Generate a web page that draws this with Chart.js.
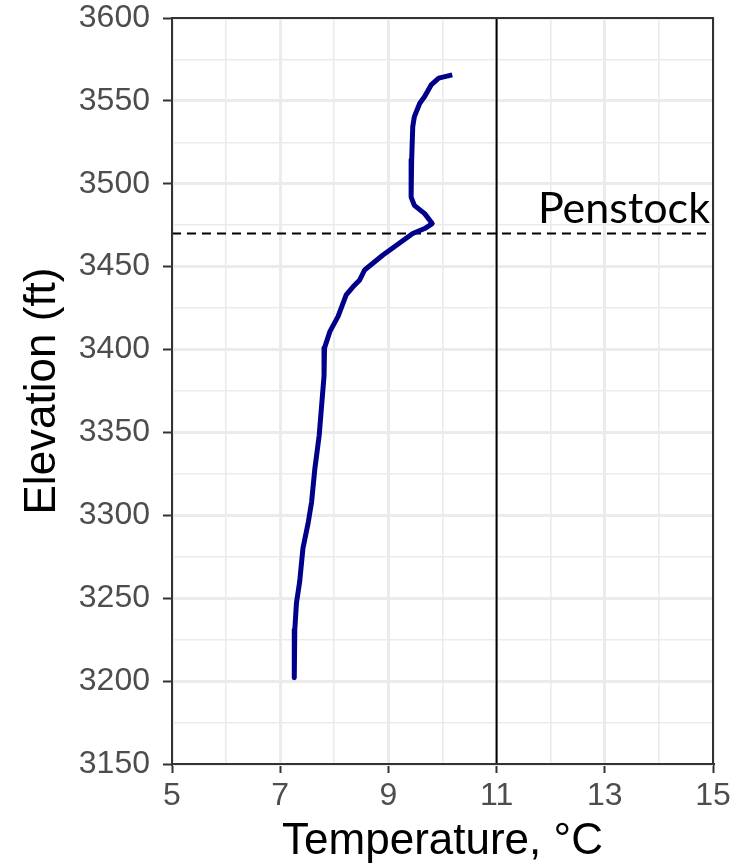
<!DOCTYPE html>
<html>
<head>
<meta charset="utf-8">
<script src="https://cdn.jsdelivr.net/npm/chart.js@4.4.1/dist/chart.umd.min.js"></script>
<style>
  html, body { margin: 0; padding: 0; background: #ffffff; }
  #wrap { width: 751px; height: 867px; }
</style>
</head>
<body>
<div id="wrap"><canvas id="c" width="751" height="867"></canvas></div>
<script>
// ---- data ----
const elevation = [3565.7, 3563.7, 3559.6, 3552.6, 3548.6, 3540.5, 3534.5, 3514.5, 3492, 3487, 3482, 3476, 3473, 3470, 3457, 3448, 3442, 3438, 3433, 3420, 3411, 3401, 3384, 3364, 3348, 3328, 3308, 3296, 3280, 3260, 3247, 3231, 3202];
const temperature = [10.18, 9.93, 9.79, 9.67, 9.58, 9.48, 9.45, 9.43, 9.42, 9.48, 9.67, 9.81, 9.67, 9.45, 8.90, 8.56, 8.47, 8.35, 8.22, 8.07, 7.92, 7.82, 7.81, 7.76, 7.72, 7.64, 7.58, 7.52, 7.42, 7.36, 7.30, 7.27, 7.26];
const xTickLabels = ['5', '7', '9', '11', '13', '15'];
const yTickLabels = ['3150', '3200', '3250', '3300', '3350', '3400', '3450', '3500', '3550', '3600'];
const penstockElevation = 3470;
const penstockLabel = 'Penstock';
const referenceTemperature = 11;
const xRange = [5, 15];
const yRange = [3150, 3600];
const xTitle = 'Temperature, °C';
const yTitle = 'Elevation (ft)';

const profile = temperature.map((t, i) => ({ x: t, y: elevation[i] }));
const refLine = [{ x: referenceTemperature, y: yRange[0] }, { x: referenceTemperature, y: yRange[1] }];
const penLine = [{ x: xRange[0], y: penstockElevation }, { x: xRange[1], y: penstockElevation }];

const frame = {
  id: 'frame',
  afterDatasetsDraw(chart) {
    const { ctx, chartArea: a, scales } = chart;
    ctx.save();
    ctx.strokeStyle = '#333333';
    ctx.lineWidth = 2;
    ctx.strokeRect(a.left, a.top, a.right - a.left, a.bottom - a.top);
    ctx.fillStyle = '#000000';
    ctx.font = '43px Lato, "Noto Sans", sans-serif';
    ctx.textAlign = 'right';
    ctx.textBaseline = 'alphabetic';
    ctx.fillText(penstockLabel, scales.x.getPixelForValue(xRange[1]) - 3, scales.y.getPixelForValue(penstockElevation) - 11);
    ctx.restore();
  }
};

const tickFont = { family: '"Liberation Sans", Arial, sans-serif', size: 32, lineHeight: 1.2 };
const titleFont = { family: '"Liberation Sans", Arial, sans-serif', size: 44, lineHeight: 1 };

new Chart(document.getElementById('c'), {
  type: 'scatter',
  data: {
    datasets: [
      { data: penLine, showLine: true, borderColor: '#000000', borderWidth: 2, borderDash: [9, 6], pointRadius: 0, order: 3 },
      { data: refLine, showLine: true, borderColor: '#000000', borderWidth: 2, pointRadius: 0, order: 2 },
      { data: profile, showLine: true, borderColor: '#00008B', borderWidth: 5, pointRadius: 0, tension: 0, borderJoinStyle: 'round', borderCapStyle: 'butt', order: 1 }
    ]
  },
  options: {
    responsive: false,
    animation: false,
    devicePixelRatio: 1,
    layout: { padding: { left: 0, top: 18, right: 38, bottom: 0 } },
    plugins: { legend: { display: false }, tooltip: { enabled: false } },
    scales: {
      x: {
        type: 'linear',
        min: xRange[0], max: xRange[1],
        afterFit(s) { s.height = 103; s.paddingLeft = 0; s.paddingRight = 0; },
        ticks: {
          stepSize: 1,
          autoSkip: false,
          maxRotation: 0,
          color: '#4d4d4d',
          font: tickFont,
          padding: 4,
          callback: (v) => { const s = String(v); return xTickLabels.includes(s) ? s : ''; }
        },
        grid: {
          color: '#ebebeb',
          lineWidth: (c) => (xTickLabels.includes(String(c.tick.value)) ? 3 : 1.6),
          tickColor: (c) => (xTickLabels.includes(String(c.tick.value)) ? '#333333' : 'rgba(0,0,0,0)'),
          tickWidth: 2,
          tickLength: 9,
          drawTicks: true
        },
        border: { display: true, color: '#333333', width: 2 },
        title: { display: true, text: xTitle, color: '#000000', font: titleFont, padding: { top: 0, bottom: 3 } }
      },
      y: {
        type: 'linear',
        min: yRange[0], max: yRange[1],
        afterFit(s) { s.width = 172; s.paddingTop = 0; s.paddingBottom = 0; },
        ticks: {
          stepSize: 25,
          autoSkip: false,
          color: '#4d4d4d',
          font: tickFont,
          padding: 13,
          callback: (v) => { const s = String(v); return yTickLabels.includes(s) ? s : ''; }
        },
        grid: {
          color: '#ebebeb',
          lineWidth: (c) => (yTickLabels.includes(String(c.tick.value)) ? 3 : 1.6),
          tickColor: (c) => (yTickLabels.includes(String(c.tick.value)) ? '#333333' : 'rgba(0,0,0,0)'),
          tickWidth: 2,
          tickLength: 9,
          drawTicks: true
        },
        border: { display: true, color: '#333333', width: 2 },
        title: { display: true, text: yTitle, color: '#000000', font: titleFont, padding: { top: 21, bottom: 0 } }
      }
    }
  },
  plugins: [frame]
});
</script>
</body>
</html>
